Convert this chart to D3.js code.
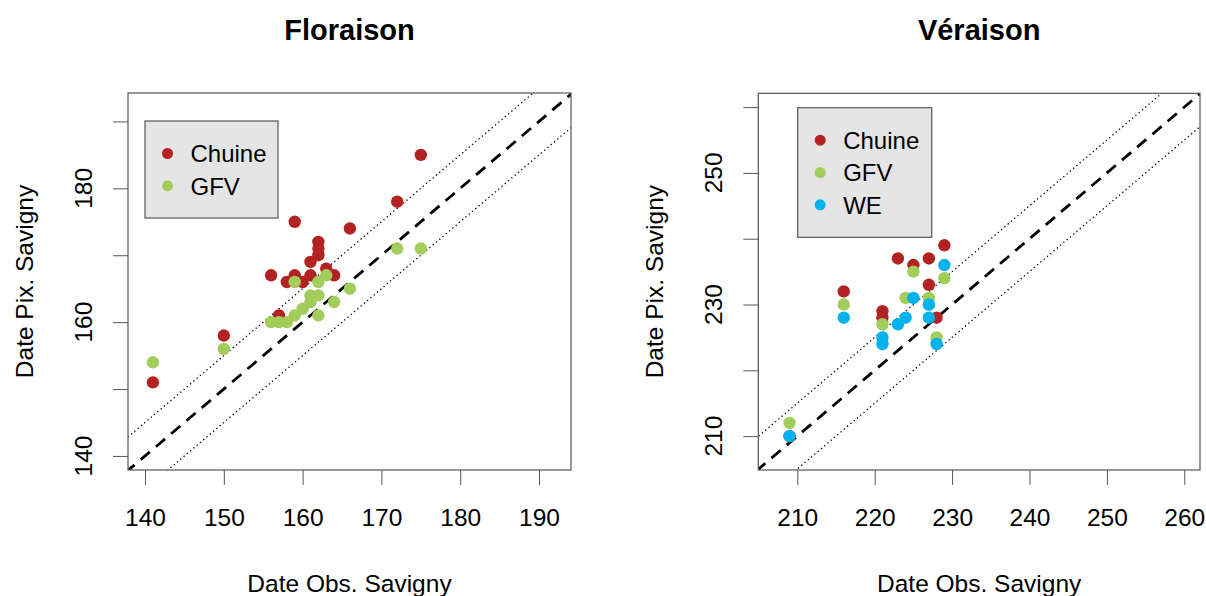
<!DOCTYPE html>
<html>
<head>
<meta charset="utf-8">
<script src="https://cdn.jsdelivr.net/npm/d3@7"></script>
<style>
  body { margin: 0; background: #fff; }
  svg { display: block; font-family: "Liberation Sans", Arial, sans-serif; }
</style>
</head>
<body>
<svg id="chart" width="1206" height="596"></svg>
<script>
/* eslint-env browser */
/* global d3: false */

// Floraison: [obs, pix]
const floChuine = [
  [172, 178], [175, 185], [159, 175], [166, 174], [162, 172], [162, 171],
  [162, 170], [161, 169], [163, 168], [164, 167], [161, 167], [159, 167],
  [156, 167], [158, 166], [160, 166], [157, 161], [150, 158], [141, 151]];
const floGFV = [
  [172, 171], [175, 171], [159, 166], [162, 166], [163, 167], [166, 165],
  [161, 164], [162, 164], [161, 163], [164, 163], [160, 162], [159, 161],
  [162, 161], [156, 160], [157, 160], [158, 160], [150, 156], [141, 154]];

// Véraison: [obs, pix]
const verChuine = [
  [229, 239], [223, 237], [227, 237], [225, 236], [227, 233], [216, 232],
  [221, 229], [221, 228], [228, 228], [209, 210]];
const verGFV = [
  [225, 235], [229, 234], [216, 230], [224, 231], [227, 231], [227, 230],
  [221, 227], [228, 225], [209, 212]];
const verWE = [
  [229, 236], [225, 231], [227, 230], [227, 228], [224, 228], [223, 227],
  [216, 228], [221, 225], [221, 224], [228, 224], [209, 210]];

const floTicks = [140, 150, 160, 170, 180, 190];
const floYLabels = [140, 160, 180];
const verTicks = [210, 220, 230, 240, 250, 260];
const verYLabels = [210, 230, 250];

const colors = { Chuine: '#b22222', GFV: '#a2cd5a', WE: '#00b2ee' };
const labelSize = 24.5;

const svg = d3.select('#chart');

function drawPanel(p) {
  const x = d3.scaleLinear().domain(p.xDomain).range([p.left, p.right]);
  const y = d3.scaleLinear().domain(p.yDomain).range([p.bottom, p.top]);
  const g = svg.append('g');

  const clipId = `clip-${p.id}`;
  g.append('clipPath').attr('id', clipId)
    .append('rect')
    .attr('x', p.left).attr('y', p.top)
    .attr('width', p.right - p.left).attr('height', p.bottom - p.top);

  // axes
  const xAxis = d3.axisBottom(x).tickValues(p.ticks).tickSize(15).tickPadding(24)
    .tickFormat(d3.format('d'));
  g.append('g').attr('transform', `translate(0,${p.bottom})`).call(xAxis)
    .call(a => a.select('.domain').remove())
    .call(a => a.selectAll('line').attr('stroke', '#555'))
    .call(a => a.selectAll('text').attr('font-size', labelSize).attr('fill', '#000')
      .attr('font-family', '"Liberation Sans", Arial, sans-serif'));

  const yAxis = d3.axisLeft(y).tickValues(p.ticks).tickSize(15).tickFormat('');
  g.append('g').attr('transform', `translate(${p.left},0)`).call(yAxis)
    .call(a => a.select('.domain').remove())
    .call(a => a.selectAll('line').attr('stroke', '#555'));

  g.selectAll('.ylab').data(p.yLabels).enter().append('text')
    .attr('transform', d => `translate(${p.left - 36},${y(d)}) rotate(-90)`)
    .attr('text-anchor', 'middle')
    .attr('font-size', labelSize)
    .text(d => d);

  // reference lines
  const lines = g.append('g').attr('clip-path', `url(#${clipId})`);
  const lo = Math.min(p.xDomain[0], p.yDomain[0]) - 10;
  const hi = Math.max(p.xDomain[1], p.yDomain[1]) + 10;
  [[0, '12,8', 2.8], [5, '1.3,3', 1.3], [-5, '1.3,3', 1.3]].forEach(([off, dash, w]) => {
    lines.append('line')
      .attr('x1', x(lo)).attr('y1', y(lo + off))
      .attr('x2', x(hi)).attr('y2', y(hi + off))
      .attr('stroke', '#000')
      .attr('stroke-width', w)
      .attr('stroke-dasharray', dash);
  });

  // points
  p.series.forEach((s) => {
    g.append('g').selectAll('circle').data(s.values).enter().append('circle')
      .attr('cx', d => x(d[0]))
      .attr('cy', d => y(d[1]))
      .attr('r', 6.2)
      .attr('fill', colors[s.name]);
  });

  // box
  g.append('rect')
    .attr('x', p.left).attr('y', p.top)
    .attr('width', p.right - p.left).attr('height', p.bottom - p.top)
    .attr('fill', 'none').attr('stroke', '#555').attr('stroke-width', 1.2);

  // legend
  const lg = g.append('g');
  lg.append('rect')
    .attr('x', p.legend.x).attr('y', p.legend.y)
    .attr('width', p.legend.w).attr('height', p.legend.h)
    .attr('fill', '#e5e5e5').attr('stroke', '#555').attr('stroke-width', 1.2);
  p.series.forEach((s, i) => {
    const cy = p.legend.y + 32.5 + i * 32.3;
    lg.append('circle').attr('cx', p.legend.x + 22.5).attr('cy', cy)
      .attr('r', 5.5).attr('fill', colors[s.name]);
    lg.append('text').attr('x', p.legend.x + 45.5).attr('y', cy + 8.7)
      .attr('font-size', 24).text(s.name);
  });

  // titles
  const cx = (p.left + p.right) / 2;
  g.append('text').attr('x', cx).attr('y', 40).attr('text-anchor', 'middle')
    .attr('font-size', 29).attr('font-weight', 'bold').text(p.title);
  g.append('text').attr('x', cx).attr('y', 592).attr('text-anchor', 'middle')
    .attr('font-size', labelSize).text('Date Obs. Savigny');
  g.append('text')
    .attr('transform', `translate(${p.left - 95},${(p.top + p.bottom) / 2}) rotate(-90)`)
    .attr('text-anchor', 'middle')
    .attr('font-size', labelSize).text('Date Pix. Savigny');
}

drawPanel({
  id: 'flo',
  title: 'Floraison',
  left: 128, right: 571, top: 93, bottom: 470,
  xDomain: [137.84, 194.06], yDomain: [137.9, 194.25],
  ticks: floTicks, yLabels: floYLabels,
  legend: { x: 145, y: 121, w: 133, h: 97 },
  series: [{ name: 'Chuine', values: floChuine }, { name: 'GFV', values: floGFV }],
});

drawPanel({
  id: 'ver',
  title: 'Véraison',
  left: 758.3, right: 1200, top: 93.3, bottom: 470,
  xDomain: [204.96, 262.03], yDomain: [204.85, 262.1],
  ticks: verTicks, yLabels: verYLabels,
  legend: { x: 797.7, y: 107.7, w: 134, h: 129.6 },
  series: [
    { name: 'Chuine', values: verChuine },
    { name: 'GFV', values: verGFV },
    { name: 'WE', values: verWE }],
});
</script>
</body>
</html>
